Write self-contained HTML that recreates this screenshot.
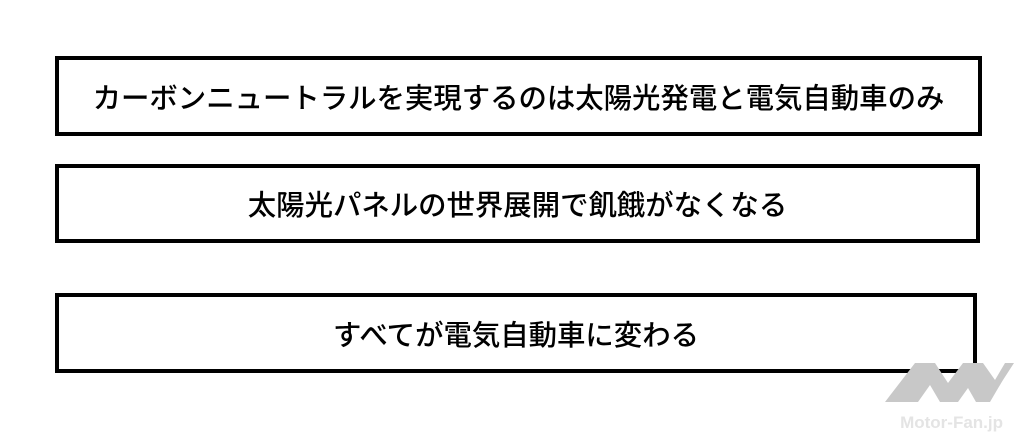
<!DOCTYPE html>
<html><head><meta charset="utf-8"><style>
body{margin:0;width:1024px;height:443px;background:#fff;position:relative;overflow:hidden;font-family:"Liberation Sans","Noto Sans CJK JP",sans-serif;}
.b{position:absolute;border:4px solid #000;box-sizing:border-box;display:flex;align-items:center;justify-content:center;font-size:28.4px;font-weight:500;color:#000;background:#fff;}
</style></head><body>
<div class="b" style="left:55px;top:56px;width:927px;height:80px;">カーボンニュートラルを実現するのは太陽光発電と電気自動車のみ</div>
<div class="b" style="left:55px;top:164px;width:925px;height:79px;">太陽光パネルの世界展開で飢餓がなくなる</div>
<div class="b" style="left:55px;top:293px;width:922px;height:80px;">すべてが電気自動車に変わる</div>
<svg style="position:absolute;left:0;top:0" width="1024" height="443">
<g fill="#c8c8c8">
<polygon points="885,402 915,363 935,363 948,383 963,363 983,363 995,380 1005,363 1014,363 1003,380 997,390 990,402 976,402 968,388 958,402 940,402 930,385 918,402"/>
</g>
<text x="1003" y="428" text-anchor="end" font-family="Liberation Sans" font-weight="bold" font-size="17" fill="#e4e4e4">Motor-Fan.jp</text>
</svg>
</body></html>
